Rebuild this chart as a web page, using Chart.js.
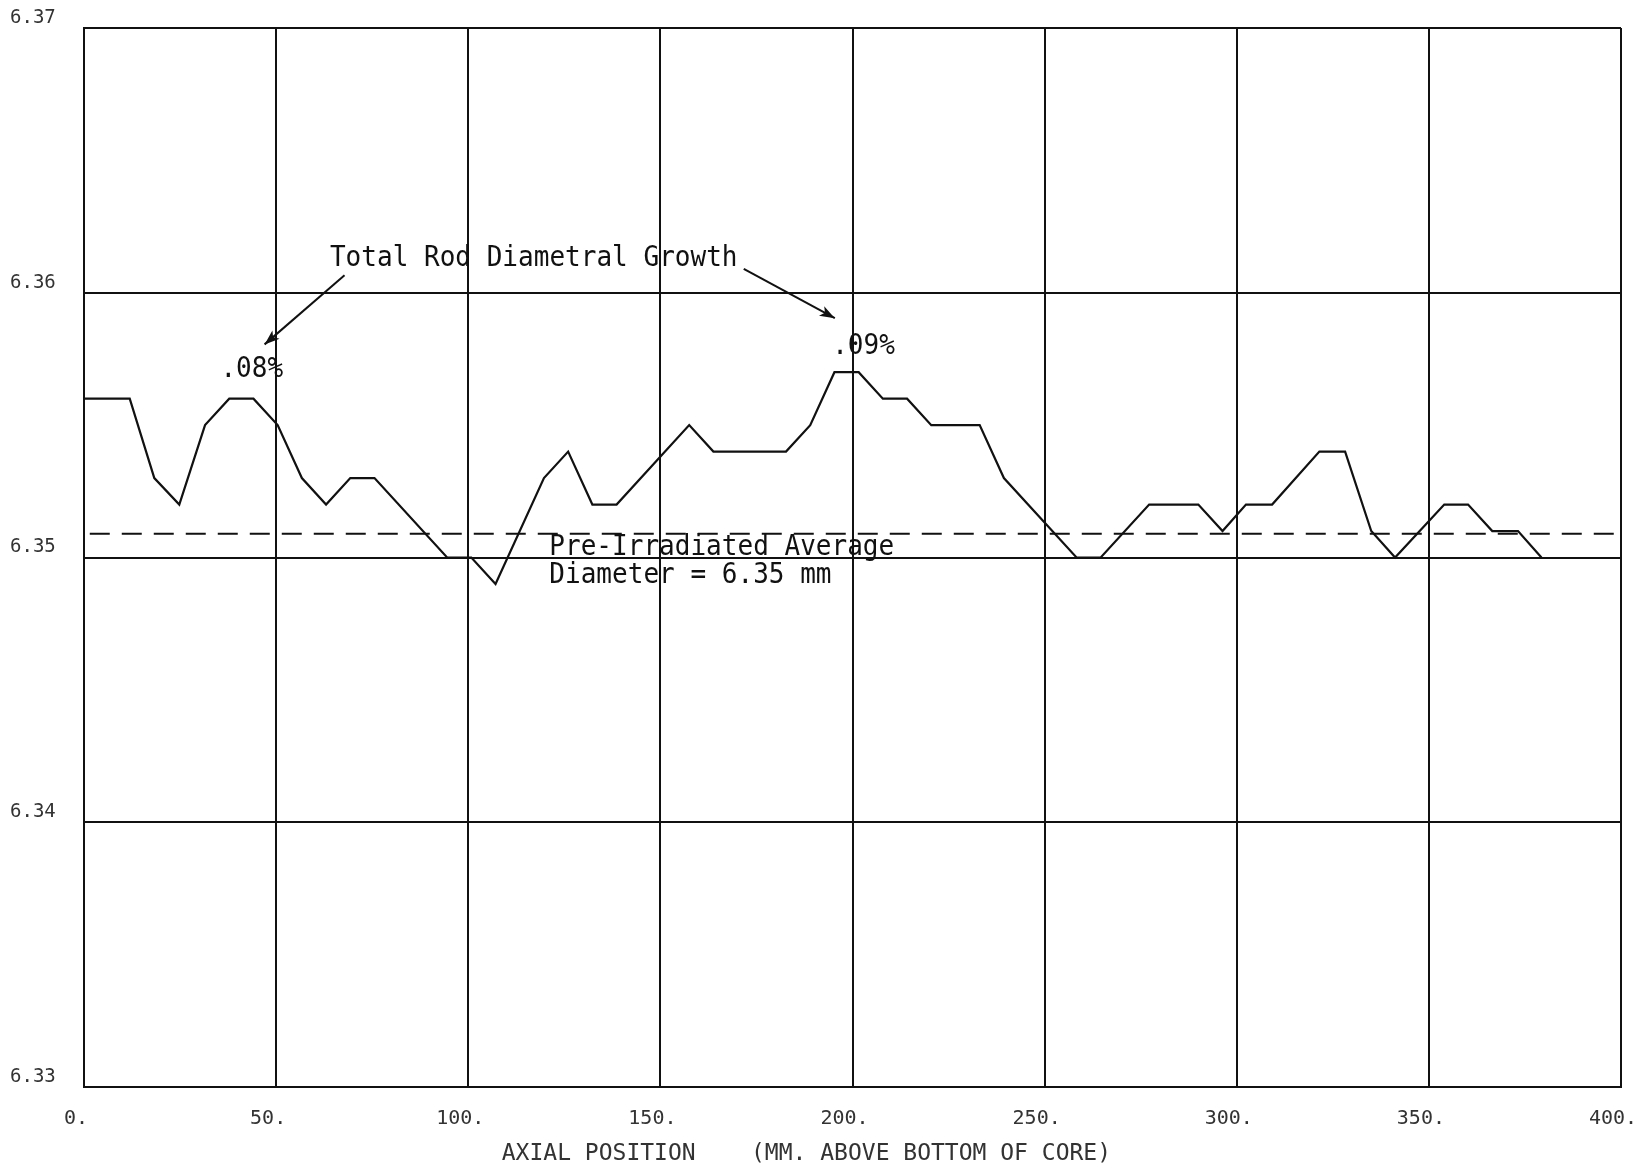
<!DOCTYPE html>
<html lang="en">
<head>
  <meta charset="utf-8">
  <title>Rod Diameter vs Axial Position</title>
  <script src="https://cdn.jsdelivr.net/npm/chart.js@4.4.1/dist/chart.umd.min.js"></script>
  <style>
    html, body { margin: 0; padding: 0; background: #fff; }
    .wrap { position: relative; width: 1647px; height: 1171px; }
  </style>
</head>
<body>
  <div class="wrap"><canvas id="diaChart"></canvas></div>

  <script>
    // axial position of each plotted vertex (mm above bottom of core)
    const axialPos = [0, 11.9, 18.3, 24.8, 31.5, 37.8, 44.1, 50.4, 56.7, 63,
                      69.3, 75.6, 94.5, 100.8, 107.1, 119.7, 126, 132.3, 138.6, 157.5,
                      163.8, 182.7, 189, 195.3, 201.6, 207.9, 214.2, 220.5, 233.1, 239.4,
                      258.3, 264.6, 277.2, 290, 296.3, 302.4, 309.2, 321.5, 328.2, 335,
                      341.2, 354, 360.2, 366.5, 373.2, 379.3];
    // measured rod diameter (mm)
    const rodDiameter = [6.356, 6.356, 6.353, 6.352, 6.355, 6.356, 6.356, 6.355, 6.353, 6.352,
                         6.353, 6.353, 6.350, 6.350, 6.349, 6.353, 6.354, 6.352, 6.352, 6.355,
                         6.354, 6.354, 6.355, 6.357, 6.357, 6.356, 6.356, 6.355, 6.355, 6.353,
                         6.350, 6.350, 6.352, 6.352, 6.351, 6.352, 6.352, 6.354, 6.354, 6.351,
                         6.350, 6.352, 6.352, 6.351, 6.351, 6.350];
    // pre-irradiated average (dashed line) and its extent
    const avgDiameter = 6.3509;
    const avgSpan = [1.5, 399];
    // axis ticks
    const xTicks = [0, 50, 100, 150, 200, 250, 300, 350, 400];
    const yTicks = [6.33, 6.34, 6.35, 6.36, 6.37];

    const growthLabels = ['.08%', '.09%'];

    const monoFont = '"DejaVu Sans Mono", "Liberation Mono", monospace';

    function condensedText(ctx, text, x, y, size, sx) {
      ctx.save();
      ctx.translate(x, y);
      ctx.scale(sx, 1);
      ctx.font = size + 'px ' + monoFont;
      ctx.textAlign = 'left';
      ctx.textBaseline = 'alphabetic';
      ctx.fillStyle = '#111';
      ctx.fillText(text, 0, 0);
      ctx.restore();
    }

    function arrow(ctx, x1, y1, x2, y2) {
      const ang = Math.atan2(y2 - y1, x2 - x1);
      ctx.save();
      ctx.strokeStyle = '#111';
      ctx.fillStyle = '#111';
      ctx.lineWidth = 2;
      ctx.beginPath();
      ctx.moveTo(x1, y1);
      ctx.lineTo(x2, y2);
      ctx.stroke();
      const len = 16, wid = 0.35;
      ctx.beginPath();
      ctx.moveTo(x2, y2);
      ctx.lineTo(x2 - len * Math.cos(ang - wid), y2 - len * Math.sin(ang - wid));
      ctx.lineTo(x2 - len * 0.7 * Math.cos(ang), y2 - len * 0.7 * Math.sin(ang));
      ctx.lineTo(x2 - len * Math.cos(ang + wid), y2 - len * Math.sin(ang + wid));
      ctx.closePath();
      ctx.fill();
      ctx.restore();
    }

    // annotation text, arrows and axis title
    const notes = {
      id: 'notes',
      afterDraw(chart) {
        const { ctx, scales: { x, y }, chartArea } = chart;
        const px = v => x.getPixelForValue(v);
        const py = v => y.getPixelForValue(v);

        condensedText(ctx, 'Total Rod Diametral Growth', px(64), py(6.3610), 28, 0.93);
        condensedText(ctx, growthLabels[0], px(35.5), py(6.35682), 28, 0.93);
        condensedText(ctx, growthLabels[1], px(194.7), py(6.35769), 28, 0.93);
        condensedText(ctx, 'Pre-Irradiated Average', px(121.1), py(6.35011), 28, 0.93);
        condensedText(ctx, 'Diameter = 6.35 mm', px(121.1), py(6.34904), 28, 0.93);

        arrow(ctx, px(67.8), py(6.36066), px(47.0), py(6.35805));
        arrow(ctx, px(171.7), py(6.3609), px(195.4), py(6.35904));

        ctx.save();
        ctx.font = '23px ' + monoFont;
        ctx.fillStyle = '#333';
        ctx.textAlign = 'center';
        ctx.textBaseline = 'middle';
        ctx.fillText('AXIAL POSITION    (MM. ABOVE BOTTOM OF CORE)', px(188), chartArea.bottom + 67);
        ctx.restore();
      }
    };

    new Chart(document.getElementById('diaChart'), {
      type: 'line',
      data: {
        datasets: [
          {
            label: 'Rod diameter',
            data: axialPos.map((p, i) => ({ x: p, y: rodDiameter[i] })),
            borderColor: '#111',
            borderWidth: 2.2,
            pointRadius: 0,
            tension: 0
          },
          {
            label: 'Pre-irradiated average',
            data: avgSpan.map(p => ({ x: p, y: avgDiameter })),
            borderColor: '#111',
            borderWidth: 2,
            borderDash: [20, 12],
            pointRadius: 0
          }
        ]
      },
      options: {
        responsive: true,
        maintainAspectRatio: false,
        animation: false,
        layout: { padding: { left: 10, right: 26, top: 28, bottom: 0 } },
        plugins: { legend: { display: false }, tooltip: { enabled: false } },
        scales: {
          x: {
            type: 'linear',
            min: 0, max: 400,
            afterBuildTicks: s => { s.ticks = xTicks.map(v => ({ value: v })); },
            afterFit: s => { s.height = 84; s.paddingLeft = 0; s.paddingRight = 0; },
            grid: { color: '#111', lineWidth: 2, drawTicks: false },
            border: { color: '#111', width: 2 },
            ticks: {
              padding: 20,
              labelOffset: -8,
              maxRotation: 0,
              color: '#333',
              font: { family: monoFont, size: 20 },
              callback: v => v + '.'
            }
          },
          y: {
            min: 6.33, max: 6.37,
            afterBuildTicks: s => { s.ticks = yTicks.map(v => ({ value: v })); },
            afterFit: s => { s.width = 74; s.paddingTop = 0; s.paddingBottom = 0; },
            grid: { color: '#111', lineWidth: 2, drawTicks: false },
            border: { color: '#111', width: 2 },
            ticks: {
              crossAlign: 'far',
              labelOffset: -10,
              color: '#333',
              font: { family: monoFont, size: 19 },
              callback: v => v.toFixed(2)
            }
          }
        }
      },
      plugins: [notes]
    });
  </script>
</body>
</html>
